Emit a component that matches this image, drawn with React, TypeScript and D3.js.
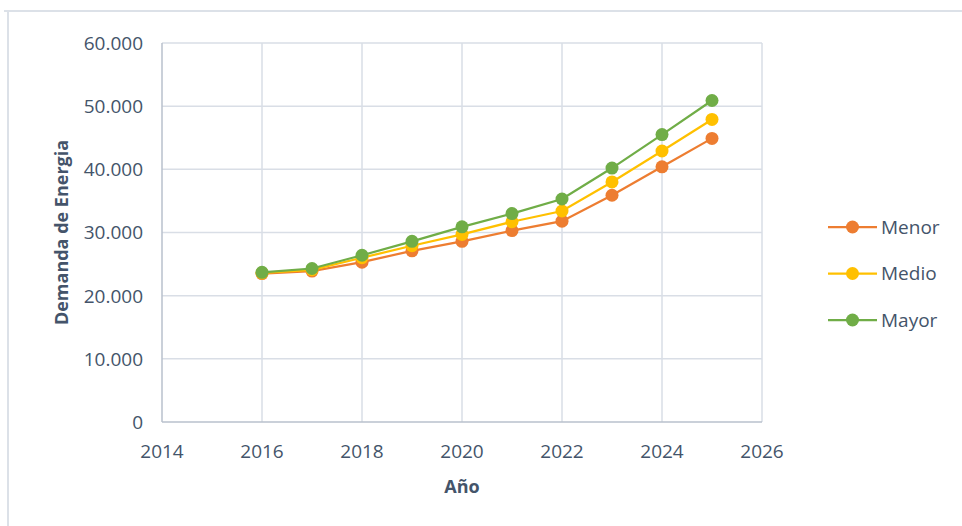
import React from "react";
import * as d3 from "d3";

const years = [2016, 2017, 2018, 2019, 2020, 2021, 2022, 2023, 2024, 2025];
const menor = [23500, 23900, 25300, 27100, 28600, 30300, 31800, 35900, 40400, 44900];
const medio = [23600, 24100, 26000, 27900, 29700, 31700, 33400, 38000, 42900, 47900];
const mayor = [23700, 24300, 26400, 28600, 30900, 33000, 35300, 40200, 45500, 50900];
const seriesNames = ["Menor", "Medio", "Mayor"];
const seriesColors = ["#ED7D31", "#FFC000", "#70AD47"];
const xTicks = [2014, 2016, 2018, 2020, 2022, 2024, 2026];
const yTicks = [0, 10000, 20000, 30000, 40000, 50000, 60000];

const W = 962;
const H = 526;
const FONT = "'Open Sans', 'DejaVu Sans', sans-serif";
const TEXT = "#44546A";

export default function App() {
  const x = d3.scaleLinear().domain([2014, 2026]).range([162, 762]);
  const y = d3.scaleLinear().domain([0, 60000]).range([422, 43]);
  const fmt = (v: number) =>
    v === 0 ? "0" : d3.format(",")(v).replace(/,/g, ".");
  const line = d3
    .line<[number, number]>()
    .x((d) => x(d[0]))
    .y((d) => y(d[1]));
  const all = [menor, medio, mayor];

  return (
    <div style={{ position: "absolute", left: 0, top: 0 }}>
      <svg width={W} height={H} style={{ display: "block", background: "#fff" }}>
        {/* outer frame */}
        <line x1={4} x2={W} y1={11} y2={11} stroke="#DCE1E8" strokeWidth={2} />
        <line x1={8} x2={8} y1={10} y2={H} stroke="#DCE1E8" strokeWidth={2} />

        {/* gridlines */}
        {yTicks.slice(1).map((t) => (
          <line key={"gy" + t} x1={x(2014)} x2={x(2026)} y1={y(t)} y2={y(t)} stroke="#D9DEE6" strokeWidth={1.5} />
        ))}
        {xTicks.slice(1).map((t) => (
          <line key={"gx" + t} x1={x(t)} x2={x(t)} y1={y(0)} y2={y(60000)} stroke="#D9DEE6" strokeWidth={1.5} />
        ))}
        {/* axes */}
        <line x1={x(2014)} x2={x(2014)} y1={y(0)} y2={y(60000)} stroke="#B8C0CC" strokeWidth={1.5} />
        <line x1={x(2014)} x2={x(2026)} y1={y(0)} y2={y(0)} stroke="#B8C0CC" strokeWidth={1.5} />

        {/* tick labels */}
        {yTicks.map((t) => (
          <text key={"ty" + t} x={143} y={y(t)} dy="0.36em" textAnchor="end" fontFamily={FONT} fontSize={19} fill={TEXT}>
            {fmt(t)}
          </text>
        ))}
        {xTicks.map((t) => (
          <text key={"tx" + t} x={x(t)} y={451} dy="0.36em" textAnchor="middle" fontFamily={FONT} fontSize={19} fill={TEXT}>
            {t}
          </text>
        ))}

        {/* axis titles */}
        <text transform={`translate(62,${(y(0) + y(60000)) / 2}) rotate(-90)`} dy="0.36em" textAnchor="middle" fontFamily={FONT} fontSize={18} fontWeight="bold" fill={TEXT}>
          Demanda de Energia
        </text>
        <text x={(x(2014) + x(2026)) / 2} y={487} dy="0.36em" textAnchor="middle" fontFamily={FONT} fontSize={18} fontWeight="bold" fill={TEXT}>
          Año
        </text>

        {/* series */}
        {all.map((vals, i) => {
          const pts = years.map((yr, j) => [yr, vals[j]] as [number, number]);
          return (
            <g key={seriesNames[i]}>
              <path d={line(pts) || ""} fill="none" stroke={seriesColors[i]} strokeWidth={2.25} />
              {pts.map((p) => (
                <circle key={p[0]} cx={x(p[0])} cy={y(p[1])} r={6.5} fill={seriesColors[i]} />
              ))}
            </g>
          );
        })}

        {/* legend */}
        {seriesNames.map((name, i) => {
          const ly = 227 + i * 46.5;
          return (
            <g key={"lg" + name}>
              <line x1={828} x2={877} y1={ly} y2={ly} stroke={seriesColors[i]} strokeWidth={2.25} />
              <circle cx={852.5} cy={ly} r={6.5} fill={seriesColors[i]} />
              <text x={881} y={ly} dy="0.36em" fontFamily={FONT} fontSize={19} fill={TEXT}>
                {name}
              </text>
            </g>
          );
        })}
      </svg>
    </div>
  );
}
